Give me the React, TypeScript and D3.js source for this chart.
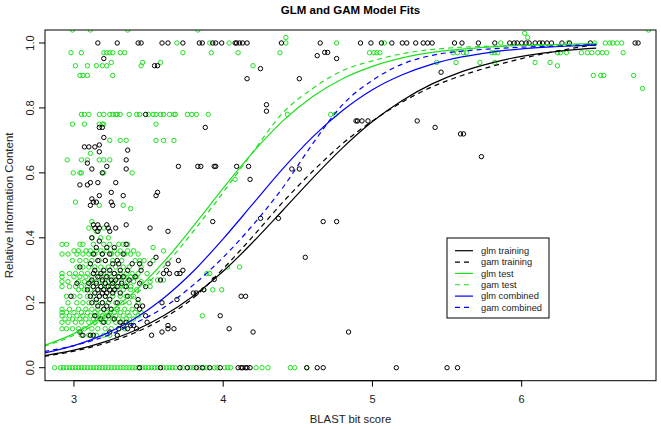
import React from "react";
import * as d3 from "d3";

const W = 661;
const H = 429;
const PLOT = { left: 45, right: 656, top: 30, bottom: 380.7 };

const chartTitle = "GLM and GAM Model Fits";
const xTitle = "BLAST bit score";
const yTitle = "Relative Information Content";
const xTicks = [3, 4, 5, 6];
const yTicks = [0, 0.2, 0.4, 0.6, 0.8, 1.0];

// fitted curves sampled along the bit score axis
const curveX = [2.8, 3.0, 3.2, 3.4, 3.6, 3.8, 4.0, 4.2, 4.4, 4.6, 4.8, 5.0, 5.2, 5.4, 5.6, 5.8, 6.0, 6.2, 6.4, 6.5];
const glmTraining = [0.037, 0.054, 0.079, 0.113, 0.16, 0.221, 0.297, 0.387, 0.485, 0.584, 0.677, 0.758, 0.823, 0.874, 0.912, 0.939, 0.959, 0.972, 0.981, 0.984];
const gamTraining = [0.035, 0.051, 0.074, 0.106, 0.152, 0.215, 0.305, 0.405, 0.51, 0.605, 0.69, 0.76, 0.818, 0.865, 0.9, 0.928, 0.952, 0.972, 0.988, 0.995];
const glmTest = [0.0685, 0.105, 0.159, 0.232, 0.325, 0.436, 0.553, 0.664, 0.76, 0.835, 0.89, 0.928, 0.954, 0.971, 0.981, 0.988, 0.993, 0.995, 0.997, 0.998];
const gamTest = [0.066, 0.1, 0.15, 0.22, 0.31, 0.42, 0.54, 0.665, 0.785, 0.86, 0.915, 0.945, 0.967, 0.98, 0.987, 0.99, 0.992, 0.994, 0.995, 0.996];
const glmCombined = [0.0448, 0.068, 0.102, 0.149, 0.214, 0.297, 0.397, 0.505, 0.613, 0.711, 0.792, 0.856, 0.902, 0.935, 0.957, 0.972, 0.982, 0.988, 0.992, 0.994];
const gamCombined = [0.05, 0.068, 0.095, 0.135, 0.185, 0.255, 0.34, 0.44, 0.555, 0.69, 0.81, 0.885, 0.935, 0.962, 0.975, 0.982, 0.987, 0.99, 0.993, 0.994];

// test observations (green): [relative information content, bit scores]
const testRows: [number, number[]][] = [
  [1.04, [2.99, 3.11, 3.36, 3.83, 6.85]],
  [1.03, [6.02]],
  [1.017, [4.42, 6.04]],
  [1.0, [3.69, 3.91, 4.04, 4.42, 4.76, 5.08, 5.86, 6.31, 6.49, 6.56, 6.59, 6.61, 6.64, 6.67]],
  [0.97, [2.98, 3.05, 3.2, 3.22, 3.24, 3.26, 3.31, 3.34, 3.73, 3.92, 4.1, 4.38, 4.98, 5.01, 5.03, 5.05, 5.54, 5.57, 5.61, 5.63, 5.8, 5.82, 5.84, 6.24, 6.26, 6.3, 6.4, 6.44, 6.47, 6.51, 6.54, 6.57, 6.68]],
  [0.94, [3.25, 3.46, 3.58, 5.43, 5.56, 5.72, 5.82, 6.09, 6.19]],
  [0.93, [3.01, 3.09, 3.15, 3.19, 3.22, 3.45, 4.2, 6.24]],
  [0.9, [3.04, 3.06, 3.09, 3.26, 6.48, 6.53, 6.55, 6.75]],
  [0.86, [6.81]],
  [0.78, [3.05, 3.07, 3.1, 3.17, 3.2, 3.24, 3.26, 3.28, 3.29, 3.31, 3.37, 3.42, 3.44, 3.5, 3.53, 3.55, 3.58, 3.6, 3.64, 3.67, 3.68, 3.76, 3.79, 3.82, 3.9, 4.43, 4.72, 4.75]],
  [0.75, [2.99, 3.07, 3.17, 3.19, 3.2, 3.55]],
  [0.7, [3.24, 3.31, 3.35, 3.55, 3.6, 3.67]],
  [0.66, [3.11]],
  [0.64, [2.955, 3.05, 3.09, 3.17, 3.2, 3.24]],
  [0.6, [2.995, 3.04, 3.05, 3.2, 3.39]],
  [0.58, [4.08]],
  [0.51, [3.01]],
  [0.5, [3.17, 3.33]],
  [0.49, [3.38]],
  [0.45, [3.12]],
  [0.43, [3.1, 3.2]],
  [0.42, [3.15]],
  [0.4, [3.12, 3.18, 3.23]],
  [0.38, [2.92, 2.95, 3.04, 3.06, 3.13, 3.2, 3.24, 3.3, 3.33, 3.36]],
  [0.37, [3.53]],
  [0.36, [3.0, 3.03, 3.08, 3.11, 3.15, 3.18, 3.22, 3.27, 3.31, 3.36, 3.4, 3.6]],
  [0.35, [2.92, 2.96, 3.02, 3.06, 3.1, 3.14, 3.19, 3.25, 3.29, 3.34, 3.38, 3.43]],
  [0.33, [2.99, 3.04, 3.08, 3.12, 3.17, 3.21, 3.26, 3.32, 3.41, 3.44, 3.47, 3.53]],
  [0.31, [3.02, 3.06, 3.1, 3.14, 3.18, 3.23, 3.28, 3.33, 3.37, 3.45, 4.03, 4.11]],
  [0.29, [2.92, 2.97, 3.01, 3.05, 3.09, 3.13, 3.16, 3.2, 3.24, 3.27, 3.31, 3.35, 3.39, 3.43, 3.49, 3.89, 3.91]],
  [0.28, [2.92, 3.0, 3.04, 3.08, 3.12, 3.17, 3.21, 3.25, 3.3, 3.34, 3.38, 3.42]],
  [0.27, [3.56, 3.6]],
  [0.265, [2.92, 2.96, 3.03, 3.07, 3.11, 3.15, 3.19, 3.23, 3.27, 3.32, 3.36, 3.4, 3.45, 3.51]],
  [0.25, [2.92, 2.97, 3.01, 3.05, 3.09, 3.13, 3.18, 3.22, 3.26, 3.3, 3.34, 3.38, 3.51]],
  [0.24, [3.03, 3.07, 3.11, 3.16, 3.2, 3.24, 3.28, 3.33, 3.38, 3.42, 3.87, 3.93, 3.99]],
  [0.22, [2.95, 3.0, 3.04, 3.09, 3.13, 3.17, 3.21, 3.26, 3.31, 3.35, 3.4]],
  [0.2, [2.96, 3.02, 3.06, 3.1, 3.15, 3.19, 3.23, 3.28, 3.32, 3.37, 3.43]],
  [0.18, [2.92, 2.97, 3.03, 3.08, 3.12, 3.16, 3.2, 3.25, 3.29, 3.34, 3.39]],
  [0.17, [2.92, 2.95, 3.0, 3.05, 3.09, 3.14, 3.18, 3.22, 3.27, 3.31, 3.36, 3.41, 3.45]],
  [0.16, [2.92, 2.97, 3.02, 3.06, 3.11, 3.15, 3.19, 3.24, 3.28, 3.33, 3.37, 3.43, 3.86]],
  [0.15, [2.94, 2.99, 3.04, 3.08, 3.13, 3.17, 3.21, 3.26, 3.3, 3.35, 3.4]],
  [0.14, [2.92, 2.96, 3.01, 3.05, 3.1, 3.14, 3.19, 3.23, 3.28, 3.32, 3.37]],
  [0.12, [2.92, 2.95, 2.99, 3.03, 3.07, 3.12, 3.16, 3.21, 3.25, 3.3, 3.34]],
  [0.1, [3.05, 3.1, 3.15, 3.2, 3.24, 3.29]],
  [0, [2.87, 2.91, 2.93, 2.95, 2.97, 2.99, 3.01, 3.03, 3.05, 3.07, 3.09, 3.11, 3.13, 3.15, 3.17, 3.19, 3.21, 3.23, 3.25, 3.27, 3.29, 3.31, 3.33, 3.35, 3.37, 3.39, 3.41, 3.43, 3.46, 3.48, 3.5, 3.52, 3.54, 3.56, 3.6, 3.62, 3.64, 3.66, 3.68, 3.73, 3.78, 3.8, 3.84, 3.87, 3.89, 3.94, 3.96, 4.01, 4.03, 4.05, 4.22, 4.26, 4.3, 4.45, 4.48, 4.56]],
];

// training observations (black)
const trainingRows: [number, number[]][] = [
  [1.0, [3.16, 3.29, 3.43, 3.45, 3.59, 3.63, 3.73, 3.84, 3.86, 3.93, 3.95, 3.99, 4.08, 4.09, 4.11, 4.13, 4.16, 4.39, 4.65, 4.92, 4.99, 5.06, 5.13, 5.2, 5.23, 5.29, 5.34, 5.37, 5.4, 5.55, 5.6, 5.71, 5.82, 5.92, 5.95, 5.97, 6.0, 6.03, 6.05, 6.09, 6.12, 6.14, 6.17, 6.2, 6.27, 6.32, 6.46, 6.76, 6.78]],
  [0.971, [4.68, 4.7]],
  [0.961, [4.63]],
  [0.952, [3.2, 4.76]],
  [0.93, [3.54, 3.56]],
  [0.921, [4.25]],
  [0.91, [5.46]],
  [0.89, [4.16, 4.51]],
  [0.81, [4.29]],
  [0.79, [4.29]],
  [0.78, [3.48]],
  [0.76, [4.89, 4.9, 4.93, 4.97, 5.3]],
  [0.74, [3.17, 3.19, 3.88, 5.42]],
  [0.72, [5.59, 5.61]],
  [0.709, [3.2]],
  [0.686, [3.17]],
  [0.68, [3.07, 3.1, 3.14]],
  [0.67, [3.36]],
  [0.665, [3.17]],
  [0.65, [5.73]],
  [0.64, [3.35]],
  [0.63, [3.09]],
  [0.62, [3.22, 3.7, 3.83, 3.85, 3.94, 3.95, 4.09, 4.17]],
  [0.612, [3.12, 3.35, 4.46, 4.51]],
  [0.6, [3.19]],
  [0.58, [4.18]],
  [0.57, [3.11, 3.16, 3.28]],
  [0.563, [3.04, 3.09]],
  [0.54, [3.25, 3.56]],
  [0.53, [3.17, 3.33, 3.55]],
  [0.52, [3.12]],
  [0.51, [3.13, 3.15, 3.25]],
  [0.5, [3.11, 3.26]],
  [0.46, [4.25, 4.37]],
  [0.45, [3.93, 4.67, 4.76]],
  [0.44, [3.13, 3.16, 3.22, 3.35]],
  [0.43, [3.14, 3.17, 3.23, 3.28, 3.51]],
  [0.42, [3.16, 3.24, 3.63]],
  [0.4, [3.12]],
  [0.39, [3.17]],
  [0.38, [3.35]],
  [0.37, [3.15, 3.22, 3.27]],
  [0.35, [3.13, 3.19, 3.24, 3.33]],
  [0.34, [3.55, 4.55]],
  [0.33, [3.16, 3.21, 3.29, 3.7]],
  [0.32, [3.11, 3.26, 3.3, 3.39, 3.44, 3.51, 3.63]],
  [0.31, [3.04]],
  [0.3, [3.14, 3.2, 3.24, 3.31, 3.36, 3.45, 3.62, 3.73]],
  [0.29, [3.13, 3.18, 3.27, 3.6, 3.64, 3.69, 3.71]],
  [0.28, [3.16, 3.22, 3.3, 3.33, 3.41]],
  [0.272, [3.94]],
  [0.27, [3.12, 3.19, 3.25, 3.28, 3.37, 3.58]],
  [0.26, [3.02, 3.1, 3.15, 3.21, 3.26, 3.32, 3.44]],
  [0.25, [3.13, 3.18, 3.23, 3.29, 3.35, 3.48]],
  [0.24, [3.09, 3.16, 3.2, 3.24, 3.27, 3.87]],
  [0.23, [3.14, 3.19, 3.22, 3.26, 3.31, 3.8, 3.82]],
  [0.22, [2.98, 3.11, 3.17, 3.21, 3.36, 4.12, 4.15]],
  [0.21, [3.15, 3.24, 3.43, 3.69]],
  [0.2, [3.12, 3.19, 3.29, 3.59]],
  [0.19, [3.16, 3.22, 3.42, 3.46]],
  [0.18, [3.2, 3.25, 3.44]],
  [0.16, [3.14, 3.23, 3.48, 3.98]],
  [0.15, [3.18, 3.27]],
  [0.14, [3.2, 3.31, 3.35, 3.49]],
  [0.13, [3.33, 3.38, 3.4, 3.63]],
  [0.12, [3.3, 3.36, 3.42, 3.63, 3.67, 4.04]],
  [0.11, [3.04, 3.24, 3.59, 4.2, 4.84]],
  [0.1, [3.06, 3.11, 3.13, 3.29, 3.52]],
  [0, [3.44, 3.58, 3.71, 3.76, 3.82, 3.86, 3.91, 3.98, 4.1, 4.12, 4.13, 4.15, 4.16, 4.18, 4.56, 4.63, 4.67, 5.16, 5.5, 5.57]],
];

const legendLabels = ["glm training", "gam training", "glm test", "gam test", "glm combined", "gam combined"];

const BLACK = "#000000";
const GREEN = "#1fe01f";
const BLUE = "#0000ff";

const curves = [
  { values: glmTraining, color: BLACK, dash: null as string | null },
  { values: gamTraining, color: BLACK, dash: "5,4" },
  { values: glmTest, color: GREEN, dash: null },
  { values: gamTest, color: GREEN, dash: "5,4" },
  { values: glmCombined, color: BLUE, dash: null },
  { values: gamCombined, color: BLUE, dash: "5,4" },
];

const FONT = "'Liberation Sans', Arial, Helvetica, sans-serif";

export default function App() {
  const x = d3.scaleLinear().domain([2.806, 6.9]).range([PLOT.left, PLOT.right]);
  const y = d3.scaleLinear().domain([-0.04, 1.04]).range([PLOT.bottom, PLOT.top]);

  const line = d3
    .line<[number, number]>()
    .x((d) => x(d[0]))
    .y((d) => y(d[1]))
    .curve(d3.curveMonotoneX);

  const flatten = (rows: [number, number[]][]) =>
    rows.flatMap(([yy, xs]) => xs.map((xx) => [xx, yy] as [number, number]));
  const testPts = flatten(testRows);
  const trainPts = flatten(trainingRows);

  const legX = 447, legY = 238, legW = 102, legH = 80;
  const rowH = 11.35;
  const R = 2.2;

  return (
    <svg width={W} height={H} style={{ display: "block", position: "absolute", left: 0, top: 0 }} fontFamily={FONT}>
      <rect width={W} height={H} fill="#fff" />
      <defs>
        <clipPath id="plotClip">
          <rect x={PLOT.left} y={PLOT.top} width={PLOT.right - PLOT.left} height={PLOT.bottom - PLOT.top} />
        </clipPath>
      </defs>
      <text x={(PLOT.left + PLOT.right) / 2} y={13.5} textAnchor="middle" fontSize={11.5} fontWeight="bold" fill="#000">
        {chartTitle}
      </text>

      <g clipPath="url(#plotClip)">
        {testPts.map((p, i) => (
          <circle key={"g" + i} cx={x(p[0])} cy={y(p[1])} r={R} fill="none" stroke={GREEN} strokeWidth={1} />
        ))}
        {trainPts.map((p, i) => (
          <circle key={"k" + i} cx={x(p[0])} cy={y(p[1])} r={R} fill="none" stroke={BLACK} strokeWidth={1} />
        ))}
        {curves.map((c, i) => (
          <path
            key={"c" + i}
            d={line(curveX.map((cx, j) => [cx, c.values[j]] as [number, number])) || ""}
            fill="none"
            stroke={c.color}
            strokeWidth={1.2}
            strokeDasharray={c.dash || undefined}
          />
        ))}
      </g>

      <rect x={PLOT.left} y={PLOT.top} width={PLOT.right - PLOT.left} height={PLOT.bottom - PLOT.top} fill="none" stroke="#000" strokeWidth={1} />

      {/* x axis */}
      <line x1={x(xTicks[0])} x2={x(xTicks[xTicks.length - 1])} y1={PLOT.bottom} y2={PLOT.bottom} stroke="#000" />
      {xTicks.map((t) => (
        <g key={"xt" + t}>
          <line x1={x(t)} x2={x(t)} y1={PLOT.bottom} y2={PLOT.bottom + 6} stroke="#000" />
          <text x={x(t)} y={403} textAnchor="middle" fontSize={11} fill="#222">
            {String(t)}
          </text>
        </g>
      ))}
      <text x={(PLOT.left + PLOT.right) / 2} y={423} textAnchor="middle" fontSize={11.3} fill="#222">
        {xTitle}
      </text>

      {/* y axis */}
      {yTicks.map((t) => (
        <g key={"yt" + t}>
          <line x1={PLOT.left - 6} x2={PLOT.left} y1={y(t)} y2={y(t)} stroke="#000" />
          <text
            transform={`translate(${33.5},${y(t)}) rotate(-90)`}
            textAnchor="middle"
            fontSize={11}
            fill="#222"
          >
            {t.toFixed(1)}
          </text>
        </g>
      ))}
      <text
        transform={`translate(${12.5},${(PLOT.top + PLOT.bottom) / 2}) rotate(-90)`}
        textAnchor="middle"
        fontSize={11.5}
        fill="#222"
      >
        {yTitle}
      </text>

      {/* legend */}
      <rect x={legX} y={legY} width={legW} height={legH} fill="#fff" stroke="#000" strokeWidth={1} />
      {legendLabels.map((lab, i) => {
        const c = curves[i];
        const cy = legY + 12.7 + i * rowH;
        return (
          <g key={"lg" + i}>
            <line x1={legX + 8} x2={legX + 26} y1={cy} y2={cy} stroke={c.color} strokeWidth={1.2} strokeDasharray={c.dash || undefined} />
            <text x={legX + 34} y={cy + 3.3} fontSize={9.3} fill="#222">
              {lab}
            </text>
          </g>
        );
      })}
    </svg>
  );
}
